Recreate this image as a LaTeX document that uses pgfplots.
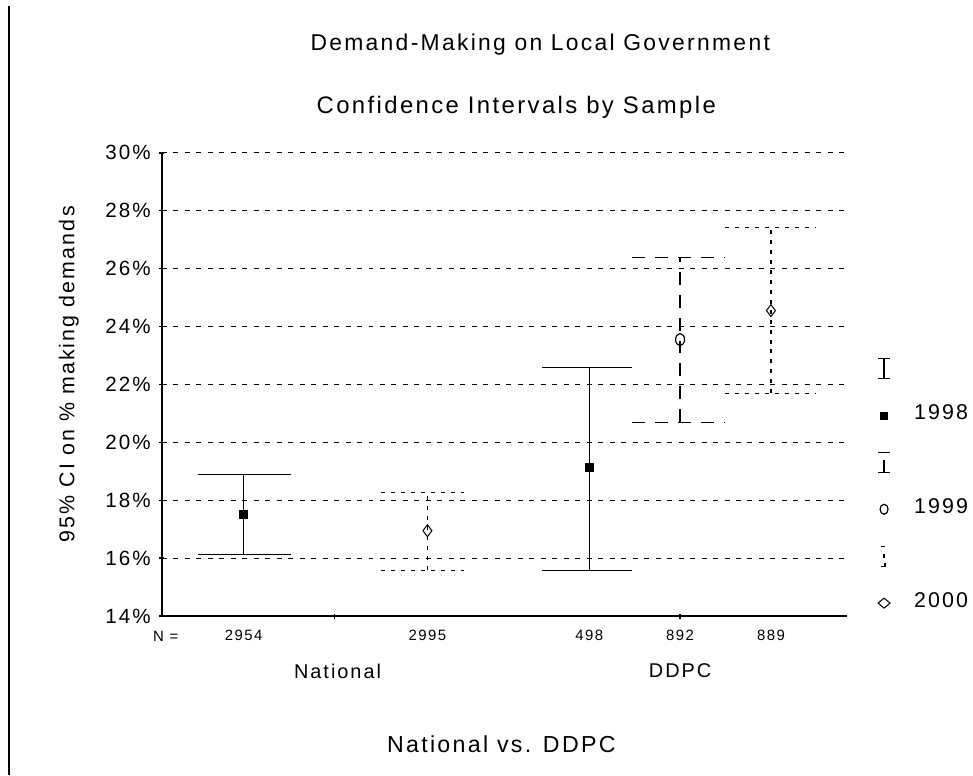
\documentclass[border=0pt]{standalone}
\usepackage{pgfplots}
\pgfplotsset{compat=1.18}
\usepackage{fontspec}
\setmainfont{Liberation Sans}[LetterSpace=10]
\begin{document}
\begin{tikzpicture}[x=1bp,y=1bp]
\path (0,0) rectangle (973,776);
\draw[line width=1.5bp] (9,0)--(9,770);
\node[font=\fontsize{23}{27}\selectfont] at (541,731) {Demand-Making on Local Government};
\node[font=\fontsize{24}{28}\selectfont] at (517,669) {Confidence Intervals by Sample};
\node[font=\fontsize{21.5}{25}\selectfont, rotate=90] at (69,401) {95\% CI on \% making demands};
\node[font=\fontsize{23.3}{27}\selectfont] at (502,31) {National vs. DDPC};
\node[font=\fontsize{20}{24}\selectfont] at (338,104) {National};
\node[font=\fontsize{20}{24}\selectfont] at (681,104) {DDPC};
\node[font=\fontsize{15}{17}\selectfont] at (166,139) {N =};
\begin{axis}[
  at={(162bp,159bp)}, anchor=south west,
  scale only axis, width=686bp, height=464bp,
  xmin=0, xmax=686, ymin=14, ymax=30,
  axis x line=bottom, axis y line=left,
  axis line style={-, line width=1.5bp, black},
  ytick={14,16,...,30},
  yticklabels={14\%,16\%,18\%,20\%,22\%,24\%,26\%,28\%,30\%},
  yticklabel style={font=\fontsize{20.7}{24}\selectfont, xshift=-5bp},
  tick style={black, line width=1.5bp},
  major tick length=5bp,
  tick align=center,
  ymajorgrids,
  major grid style={black, line width=1.2bp, dash pattern=on 5bp off 6.5bp},
  xtick={173,519},
  xticklabels={},
  extra x ticks={82,266,428,519,610},
  extra x tick labels={2954,2995,498,892,889},
  extra x tick style={major tick length=0pt, xticklabel style={font=\fontsize{15}{17}\selectfont, yshift=-10bp}},
  clip=false,
  legend style={at={(1.04,0.565)}, anchor=north west, draw=none, fill=none,
    font=\fontsize{21.5}{25}\selectfont, row sep=23bp,
    nodes={text height=14bp, text depth=6bp}},
  legend cell align=left,
  s98/.style={black, line width=1.3bp, solid},
  s99/.style={black, line width=1.3bp, dash pattern=on 13bp off 10bp},
  s00/.style={black, line width=1.3bp, dash pattern=on 4bp off 6bp},
]
% legend
\addlegendimage{legend image code/.code={\path[draw=none] (0bp,0bp) (34bp,0bp); \draw[solid, line width=1.3bp] (6bp,-10bp)--(6bp,10bp) (0bp,10bp)--(12bp,10bp) (0bp,-10bp)--(12bp,-10bp);}}
\addlegendentry{}
\addlegendimage{legend image code/.code={\path[draw=none] (0bp,0bp) (34bp,0bp); \fill (6bp,0bp) +(-3.5bp,-3.5bp) rectangle +(3.5bp,3.5bp);}}
\addlegendentry{1998}
\addlegendimage{legend image code/.code={\path[draw=none] (0bp,0bp) (34bp,0bp); \draw[solid, line width=1.3bp] (6bp,-10bp)--(6bp,2bp) (0bp,10bp)--(12bp,10bp) (0bp,-10bp)--(12bp,-10bp);}}
\addlegendentry{}
\addlegendimage{legend image code/.code={\path[draw=none] (0bp,0bp) (34bp,0bp); \draw[solid, line width=1.2bp] (6bp,0bp) ellipse (4bp and 5bp);}}
\addlegendentry{1999}
\addlegendimage{legend image code/.code={\path[draw=none] (0bp,0bp) (34bp,0bp); \draw[solid, line width=1.3bp] (3bp,10bp)--(7bp,10bp) (6bp,2bp)--(6bp,-2bp) (3bp,-10bp)--(7bp,-10bp)--(7bp,-7bp);}}
\addlegendentry{}
\addlegendimage{legend image code/.code={\path[draw=none] (0bp,0bp) (34bp,0bp); \draw[solid, line width=1bp] (0bp,0bp)--(6bp,5bp)--(12bp,0bp)--(6bp,-5bp)--cycle;}}
\addlegendentry{2000}
% 1998 National
\addplot[s98, forget plot] coordinates {(82,16.14)(82,18.90)};
\addplot[s98, forget plot] coordinates {(36,18.90)(129,18.90)};
\addplot[s98, forget plot] coordinates {(36,16.14)(129,16.14)};
% 2000 National
\addplot[s00, forget plot] coordinates {(266,15.58)(266,18.28)};
\addplot[s00, forget plot] coordinates {(220,18.28)(303,18.28)};
\addplot[s00, forget plot] coordinates {(220,15.58)(303,15.58)};
% 1998 DDPC
\addplot[s98, forget plot] coordinates {(428,15.58)(428,22.59)};
\addplot[s98, forget plot] coordinates {(381,22.59)(471,22.59)};
\addplot[s98, forget plot] coordinates {(381,15.58)(471,15.58)};
% 1999 DDPC
\addplot[s99, forget plot] coordinates {(519,20.69)(519,26.38)};
\addplot[s99, forget plot] coordinates {(471,26.38)(564,26.38)};
\addplot[s99, forget plot] coordinates {(471,20.69)(564,20.69)};
% 2000 DDPC
\addplot[s00, forget plot] coordinates {(610,21.69)(610,27.41)};
\addplot[s00, forget plot] coordinates {(564,27.41)(655,27.41)};
\addplot[s00, forget plot] coordinates {(564,21.69)(655,21.69)};
% marks
\addplot[only marks, mark=square*, mark size=4bp, black, forget plot] coordinates {(82,17.52)(428,19.14)};
\addplot[only marks, mark=o, mark size=6bp, black, mark options={xscale=0.75, line width=1.2bp}, forget plot] coordinates {(519,23.55)};
\addplot[only marks, mark=diamond, mark size=6bp, black, mark options={line width=1bp}, forget plot] coordinates {(266,16.95)(610,24.55)};
\end{axis}
\end{tikzpicture}
\end{document}
